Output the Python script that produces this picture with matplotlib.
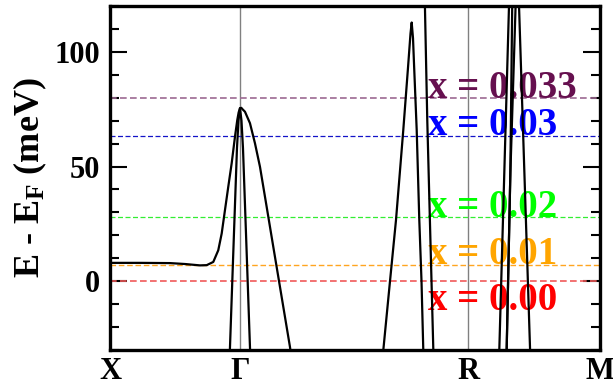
import matplotlib
matplotlib.use("Agg")
import matplotlib.pyplot as plt
from matplotlib.ticker import MultipleLocator

plt.rcParams['font.family'] = ['Liberation Serif', 'DejaVu Serif']
plt.rcParams['font.weight'] = 'bold'
plt.rcParams['mathtext.fontset'] = 'custom'
plt.rcParams['mathtext.rm'] = 'Liberation Serif:bold'
plt.rcParams['mathtext.bf'] = 'Liberation Serif:bold'
plt.rcParams['mathtext.it'] = 'Liberation Serif:bold'

# high-symmetry points along the k-path
kpoint_pos = [0.0, 0.495, 1.364, 1.866]
kpoint_labels = ['X', 'Γ', 'R', 'M']

# bands (k, E in meV)
band1_k = [0.0, 0.1142, 0.2285, 0.2856, 0.3427, 0.3683, 0.3934, 0.4124, 0.4254, 0.4379,
           0.4505, 0.4634, 0.4760, 0.4848, 0.4900, 0.4951, 0.5000, 0.5046, 0.5141, 0.5331,
           0.5522, 0.5712, 0.5967, 0.6219, 0.6474, 0.6855, 0.6931]
band1_E = [8.0, 8.0, 7.9, 7.5, 6.9, 7.0, 8.4, 13.5, 20.8, 31.0,
           41.2, 51.4, 63.0, 70.3, 73.6, 75.4, 75.6, 75.0, 73.9, 68.9,
           60.1, 49.9, 32.4, 15.0, -2.5, -28.7, -35.0]

band2_k = [0.4555, 0.4570, 0.4722, 0.4836, 0.4894, 0.4951, 0.5008, 0.5065, 0.5179, 0.5331, 0.5347]
band2_E = [-33.0, -28.7, 21.0, 58.0, 70.0, 75.5, 70.0, 58.0, 21.0, -28.7, -33.0]

band3_k = [1.0389, 1.0408, 1.0663, 1.0891, 1.1169, 1.1348, 1.1444, 1.1489, 1.1539,
           1.1577, 1.1680, 1.1779, 1.1863, 1.1931, 1.1942]
band3_E = [-33.0, -30.1, 0.0, 26.6, 65.9, 93.0, 108.0, 112.8, 106.0,
           95.0, 65.9, 26.6, 0.0, -30.1, -34.0]

band4_k = [1.1984, 1.2083, 1.2186, 1.2320]
band4_E = [125.0, 70.0, 25.0, -33.0]

band5_k = [1.4818, 1.5202, 1.5385, 1.5568, 1.6006]
band5_E = [-33.0, 123.0, 140.0, 123.0, -33.0]

band6_k = [1.5100, 1.5244, 1.5320]
band6_E = [-33.0, 46.0, 123.0]

band7_k = [1.5100, 1.5244, 1.5454]
band7_E = [-33.0, 46.0, 123.0]

bands = [(band1_k, band1_E), (band2_k, band2_E), (band3_k, band3_E), (band4_k, band4_E),
         (band5_k, band5_E), (band6_k, band6_E), (band7_k, band7_E)]

# Fermi levels for different doping
fermi_E = [0.0, 7.0, 27.8, 63.5, 80.0]
fermi_labels = ['x = 0.00', 'x = 0.01', 'x = 0.02', 'x = 0.03', 'x = 0.033']
label_E = [-12.7, 7.3, 27.8, 63.7, 80.0]
line_colors = ['#f05a5a', '#ffa520', '#33ee33', '#1414c8', '#9c6a92']
text_colors = ['#ff0000', '#ffa500', '#00ff00', '#0000ff', '#66104f']
line_widths = [1.2, 1.0, 0.9, 0.9, 1.2]

fig = plt.figure(figsize=(6.13, 3.92), dpi=100)
ax = fig.add_axes([0.1794, 0.1071, 0.7994, 0.8776])

for kp in kpoint_pos[1:3]:
    ax.axvline(kp, color='#808080', lw=1.0, zorder=1)

for E, c, lw in zip(fermi_E, line_colors, line_widths):
    ax.axhline(E, color=c, lw=lw, dashes=(4, 2), zorder=2)

for lab, E, c in zip(fermi_labels, label_E, text_colors):
    ax.text(1.212, E, lab, color=c, fontsize=28, fontweight='bold',
            ha='left', va='baseline', zorder=3)

for k, E in bands:
    ax.plot(k, E, color='black', lw=1.6, zorder=4, solid_joinstyle='round')

ax.set_xlim(kpoint_pos[0], kpoint_pos[-1])
ax.set_ylim(-30, 120)
ax.set_xticks(kpoint_pos)
ax.set_xticklabels(kpoint_labels, fontsize=22, fontweight='bold')
ax.tick_params(axis='x', length=0, pad=5)

ax.yaxis.set_major_locator(MultipleLocator(50))
ax.yaxis.set_minor_locator(MultipleLocator(10))
ax.tick_params(axis='y', which='both', direction='in', left=True, right=True, width=1.5)
ax.tick_params(axis='y', which='major', length=12.5, labelsize=22, pad=7)
ax.tick_params(axis='y', which='minor', length=6.5)
for t in ax.get_yticklabels():
    t.set_fontweight('bold')

for s in ax.spines.values():
    s.set_linewidth(2.4)

ax.set_ylabel(r'E - E$_\mathbf{F}$ (meV)', fontsize=26, fontweight='bold')
ax.yaxis.set_label_coords(-0.125, 0.5)

fig.savefig('out.png', dpi=100)
